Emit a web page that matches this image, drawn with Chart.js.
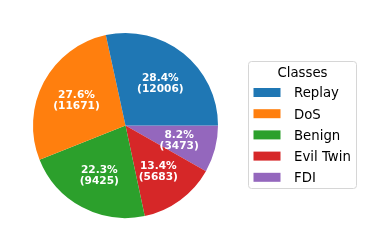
<html>
<head>
    <title>Classes</title>
    <script src="https://cdn.jsdelivr.net/npm/chart.js"></script>
    <style>
        html, body {
            margin: 0;
            background: #fff;
        }

        #chart-container {
            width: 367px;
            height: 251px;
        }
    </style>
</head>
<body>
    <div id="chart-container">
        <canvas id="chart"></canvas>
    </div>

    <script>
        // datos del grafico (orden de la leyenda)
        const clases = ['Replay', 'DoS', 'Benign', 'Evil Twin', 'FDI'];
        const cantidades = [12006, 11671, 9425, 5683, 3473];
        const colores = ['#1f77b4', '#ff7f0e', '#2ca02c', '#d62728', '#9467bd'];
        const tituloLeyenda = 'Classes';

        const total = cantidades.reduce((a, b) => a + b, 0);

        // Chart.js dibuja en sentido horario, asi que invertimos el orden
        const etiquetasPie = clases.slice().reverse();
        const datosPie = cantidades.slice().reverse();
        const coloresPie = colores.slice().reverse();

        // porcentajes y cantidades dentro de cada porcion
        const etiquetasPorcion = {
            id: 'etiquetasPorcion',
            afterDatasetsDraw(chart) {
                const ctx = chart.ctx;
                const meta = chart.getDatasetMeta(0);
                ctx.save();
                ctx.fillStyle = '#fff';
                ctx.font = 'bold 10.6px "DejaVu Sans"';
                ctx.textAlign = 'center';
                ctx.textBaseline = 'alphabetic';
                meta.data.forEach((arc, i) => {
                    const p = arc.getProps(['x', 'y', 'startAngle', 'endAngle', 'outerRadius'], true);
                    const medio = (p.startAngle + p.endAngle) / 2;
                    const cx = p.x + Math.cos(medio) * p.outerRadius * 0.6;
                    const cy = p.y + Math.sin(medio) * p.outerRadius * 0.6;
                    const valor = datosPie[i];
                    ctx.fillText((valor / total * 100).toFixed(1) + '%', cx, cy - 1.5);
                    ctx.fillText('(' + valor + ')', cx, cy + 9.5);
                });
                ctx.restore();
            }
        };

        // leyenda con marco a la derecha
        const leyenda = {
            id: 'leyenda',
            afterDraw(chart) {
                const ctx = chart.ctx;
                const x0 = 248.5, y0 = 61.5, ancho = 108, alto = 127, r = 3;
                ctx.save();
                ctx.beginPath();
                ctx.roundRect(x0, y0, ancho, alto, r);
                ctx.fillStyle = '#fff';
                ctx.fill();
                ctx.strokeStyle = '#d6d6d6';
                ctx.lineWidth = 1;
                ctx.stroke();

                ctx.fillStyle = '#000';
                ctx.font = '13.3px "DejaVu Sans"';
                ctx.textAlign = 'center';
                ctx.textBaseline = 'alphabetic';
                ctx.fillText(tituloLeyenda, x0 + ancho / 2, 76.7);

                ctx.textAlign = 'left';
                clases.forEach((clase, i) => {
                    const yc = 92.5 + i * 21.2;
                    ctx.fillStyle = colores[i];
                    ctx.fillRect(253.5, yc - 4.5, 27, 9);
                    ctx.fillStyle = '#000';
                    ctx.fillText(clase, 294, yc + 4.9);
                });
                ctx.restore();
            }
        };

        const canvas = document.getElementById('chart');
        const chart = new Chart(canvas.getContext('2d'), {
            type: 'pie',
            data: {
                labels: etiquetasPie,
                datasets: [{
                    data: datosPie,
                    backgroundColor: coloresPie,
                    borderWidth: 0
                }]
            },
            options: {
                responsive: true,
                maintainAspectRatio: false,
                animation: false,
                rotation: 90, // empieza a las 3 en punto
                layout: {
                    padding: { left: 33, right: 149, top: 33, bottom: 33 }
                },
                plugins: {
                    legend: { display: false },
                    tooltip: { enabled: false }
                }
            },
            plugins: [etiquetasPorcion, leyenda]
        });
    </script>
</body>
</html>
